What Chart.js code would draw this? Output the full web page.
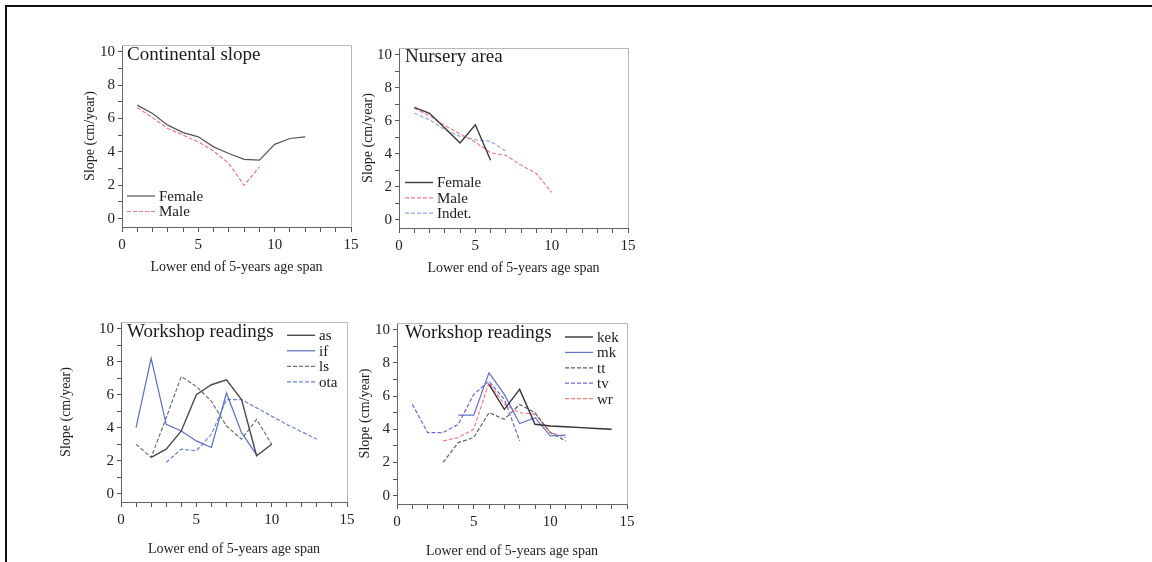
<!DOCTYPE html>
<html>
<head>
<meta charset="utf-8">
<script src="https://cdn.jsdelivr.net/npm/chart.js@4/dist/chart.umd.min.js"></script>
<style>
  html, body { margin: 0; padding: 0; background: #fff; }
  body { width: 1152px; height: 562px; position: relative; overflow: hidden; }
  #frame { position: absolute; left: 5px; top: 5px; width: 1160px; height: 570px;
           border-top: 2px solid #111; border-left: 2px solid #111; }
  canvas { position: absolute; }
</style>
</head>
<body>
<div id="frame"></div>
<canvas id="pTL"></canvas>
<canvas id="pTR"></canvas>
<canvas id="pBL"></canvas>
<canvas id="pBR"></canvas>
<script>
// x values (lower end of 5-years age span)
const ages = [1, 2, 3, 4, 5, 6, 7, 8, 9, 10, 11, 12, 13, 14];
const xTicks = [0, 5, 10, 15];
const yTicks = [0, 2, 4, 6, 8, 10];

// Continental slope
const contFemale = [6.8, 6.3, 5.6, 5.15, 4.9, 4.3, 3.9, 3.55, 3.5, 4.45, 4.8, 4.9];
const contMale = [6.65, 6.05, 5.4, 5.0, 4.6, 4.05, 3.3, 2.0, 3.1];

// Nursery area
const nurFemale = [6.8, 6.45, 5.55, 4.65, 5.75, 3.6];
const nurMale = [6.75, 6.3, 5.7, 5.2, 4.7, 4.05, 3.9, 3.3, 2.8, 1.65];
const nurIndet = [6.45, 6.05, 5.45, 5.05, 4.85, 4.75, 4.15];

// Workshop readings (left)
const wsAs = [null, 2.2, 2.7, 3.8, 6.0, 6.6, 6.9, 5.7, 2.3, 3.0];
const wsIf = [4.0, 8.2, 4.2, 3.8, 3.2, 2.8, 6.1, 3.7, 2.35];
const wsLs = [3.0, 2.2, 4.6, 7.1, 6.5, 5.6, 4.1, 3.3, 4.5, 3.0];
const wsOta = [null, null, 1.9, 2.7, 2.6, 3.6, 5.7, 5.7, 5.2, 4.7, 4.2, 3.75, 3.3];

// Workshop readings (right)
const wsKek = [null, null, null, null, null, 6.7, 5.2, 6.4, 4.3, 4.2, 4.15, 4.1, 4.05, 4.0];
const wsMk = [null, null, null, 4.85, 4.85, 7.4, 6.1, 4.35, 4.7, 3.6, 3.65];
const wsTt = [null, null, 2.0, 3.2, 3.5, 5.0, 4.6, 5.5, 5.0, 3.8, 3.3];
const wsTv = [5.5, 3.8, 3.8, 4.3, 6.1, 6.9, 5.8, 3.3];
const wsWr = [null, null, 3.3, 3.5, 4.0, 6.8, 5.5, 5.0, 4.9, 3.8, 3.5];

const SERIF = "'Liberation Serif', 'DejaVu Serif', serif";
const AXIS_W = 80, AXIS_H = 60, PAD_T = 15, PAD_R = 12;

function pts(arr) {
  return arr.map(function (v, i) { return { x: ages[i], y: v }; });
}

function line(label, arr, color, dashed, width) {
  return {
    label: label,
    data: pts(arr),
    borderColor: color,
    borderWidth: width || 1.2,
    borderDash: dashed ? [4, 2] : [],
    pointRadius: 0,
    tension: 0,
    fill: false,
  };
}

// Draws box, panel title, legend and axis titles
const decor = {
  id: "decor",
  afterDraw(chart, args, o) {
    const ctx = chart.ctx;
    const a = chart.chartArea;
    ctx.save();
    // light box on top and right
    ctx.strokeStyle = "#b8b8b8";
    ctx.lineWidth = 1;
    ctx.beginPath();
    ctx.moveTo(a.left, a.top + 0.5);
    ctx.lineTo(a.right + 0.5, a.top + 0.5);
    ctx.lineTo(a.right + 0.5, a.bottom);
    ctx.stroke();

    ctx.fillStyle = "#1a1a1a";
    ctx.font = "19px " + SERIF;
    ctx.textBaseline = "alphabetic";
    ctx.textAlign = "left";
    ctx.fillText(o.title, a.left + o.titleDx, a.top + o.titleDy);

    // legend
    ctx.font = "15px " + SERIF;
    ctx.textBaseline = "middle";
    chart.data.datasets.forEach(function (ds, i) {
      const y = a.top + o.legDy + i * o.legStep;
      const x = a.left + o.legDx;
      ctx.strokeStyle = ds.borderColor;
      ctx.lineWidth = ds.borderWidth;
      ctx.setLineDash(ds.borderDash);
      ctx.beginPath();
      ctx.moveTo(x, y);
      ctx.lineTo(x + 28, y);
      ctx.stroke();
      ctx.setLineDash([]);
      ctx.fillStyle = "#1a1a1a";
      ctx.fillText(ds.label, x + 32, y + 1);
    });

    // axis titles
    ctx.font = "14px " + SERIF;
    ctx.fillStyle = "#222";
    ctx.textAlign = "center";
    ctx.fillText("Lower end of 5-years age span", (a.left + a.right) / 2, a.bottom + o.xTitleDy);
    ctx.translate(a.left + o.yTitleDx, (a.top + a.bottom) / 2);
    ctx.rotate(-Math.PI / 2);
    ctx.fillText("Slope (cm/year)", 0, 0);
    ctx.restore();
  },
};

function makePanel(id, area, datasets, deco) {
  const cv = document.getElementById(id);
  const w = (area.r - area.l) + AXIS_W + PAD_R;
  const h = (area.b - area.t) + PAD_T + AXIS_H;
  cv.width = w;
  cv.height = h;
  cv.style.left = (area.l - AXIS_W) + "px";
  cv.style.top = (area.t - PAD_T) + "px";

  return new Chart(cv, {
    type: "line",
    data: { datasets: datasets },
    plugins: [decor],
    options: {
      responsive: false,
      animation: false,
      layout: { padding: { top: PAD_T, right: PAD_R, left: 0, bottom: 0 } },
      plugins: {
        legend: { display: false },
        tooltip: { enabled: false },
        decor: deco,
      },
      scales: {
        x: {
          type: "linear",
          min: 0,
          max: 15,
          afterBuildTicks: function (s) {
            s.ticks = [];
            for (let v = 0; v <= 15; v++) s.ticks.push({ value: v });
          },
          afterFit: function (s) { s.height = AXIS_H; },
          border: { display: true, color: "#666", width: 1 },
          grid: { drawOnChartArea: false, drawTicks: true, tickLength: 5, color: "#555" },
          ticks: {
            autoSkip: false,
            maxRotation: 0,
            padding: 4,
            color: "#222",
            font: { family: SERIF, size: 15 },
            callback: function (v) { return xTicks.indexOf(v) >= 0 ? String(v) : ""; },
          },
        },
        y: {
          type: "linear",
          min: -0.5,
          max: 10.4,
          afterBuildTicks: function (s) {
            s.ticks = [];
            for (let v = 0; v <= 10; v++) s.ticks.push({ value: v });
          },
          afterFit: function (s) { s.width = AXIS_W; },
          border: { display: true, color: "#666", width: 1 },
          grid: { drawOnChartArea: false, drawTicks: true, tickLength: 4, color: "#555" },
          ticks: {
            autoSkip: false,
            padding: 3,
            color: "#222",
            font: { family: SERIF, size: 15 },
            callback: function (v) { return yTicks.indexOf(v) >= 0 ? String(v) : ""; },
          },
        },
      },
    },
  });
}

makePanel("pTL", { l: 122, r: 351, t: 45, b: 227 }, [
  line("Female", contFemale, "#555555", false),
  line("Male", contMale, "#e8788a", true),
], { title: "Continental slope", titleDx: 5, titleDy: 15, legDx: 5, legDy: 151, legStep: 15.5, xTitleDy: 40, yTitleDx: -32 });

makePanel("pTR", { l: 399, r: 628, t: 48, b: 228 }, [
  line("Female", nurFemale, "#3a3a3a", false, 1.4),
  line("Male", nurMale, "#ee7f8e", true),
  line("Indet.", nurIndet, "#8fa9de", true),
], { title: "Nursery area", titleDx: 6, titleDy: 14, legDx: 6, legDy: 134.5, legStep: 15.3, xTitleDy: 40, yTitleDx: -31 });

makePanel("pBL", { l: 121, r: 347, t: 322, b: 502 }, [
  line("as", wsAs, "#4a4a4a", false, 1.4),
  line("if", wsIf, "#5b6fc2", false),
  line("ls", wsLs, "#707070", true),
  line("ota", wsOta, "#6f82d4", true),
], { title: "Workshop readings", titleDx: 6, titleDy: 15, legDx: 166, legDy: 13.3, legStep: 15.5, xTitleDy: 47, yTitleDx: -55 });

makePanel("pBR", { l: 397, r: 627, t: 323, b: 504 }, [
  line("kek", wsKek, "#333333", false, 1.4),
  line("mk", wsMk, "#6272c8", false),
  line("tt", wsTt, "#606060", true),
  line("tv", wsTv, "#6a6ad4", true),
  line("wr", wsWr, "#f07f84", true),
], { title: "Workshop readings", titleDx: 8, titleDy: 15, legDx: 168, legDy: 14, legStep: 15.4, xTitleDy: 47, yTitleDx: -32 });
</script>
</body>
</html>
